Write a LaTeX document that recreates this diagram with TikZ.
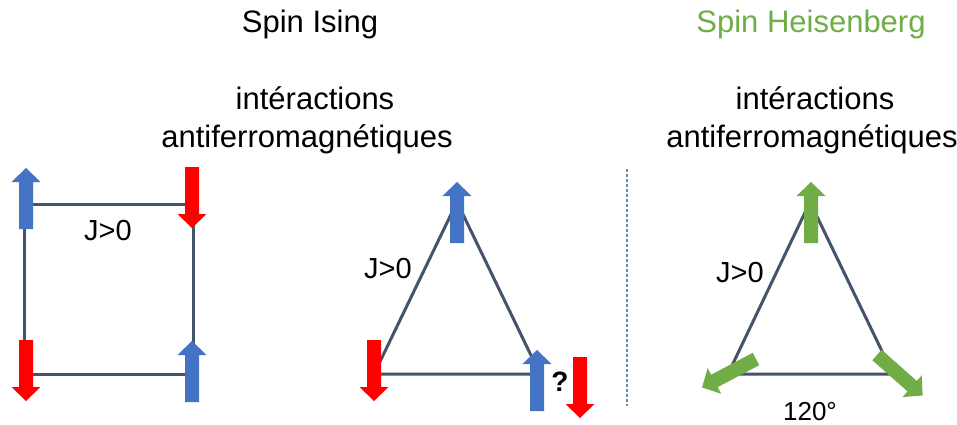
\documentclass[tikz,border=0pt]{standalone}
\usepackage{fontspec}
\setmainfont{Liberation Sans}
\definecolor{spinblue}{HTML}{4472C4}
\definecolor{spinred}{HTML}{FF0000}
\definecolor{spingreen}{HTML}{70AD47}
\definecolor{bond}{HTML}{44546A}
\definecolor{sep}{HTML}{6A85B8}
\newcommand{\spinarrow}[4]{%
  \fill[#1, shift={(#2,#3)}, rotate=#4]
    (0,-7) -- (47,-7) -- (47,-14.5) -- (61,0) -- (47,14.5) -- (47,7) -- (0,7) -- cycle;}
\tikzset{
  bondline/.style={draw=bond, line width=3pt},
  bigtext/.style={anchor=base, inner sep=0pt, font=\fontsize{31}{37}\selectfont},
  jtext/.style={anchor=base, inner sep=0pt, font=\fontsize{29}{34}\selectfont},
  angtext/.style={anchor=base, inner sep=0pt, font=\fontsize{26}{30}\selectfont},
  qtext/.style={anchor=base, inner sep=0pt, font=\fontsize{28}{32}\selectfont\bfseries},
  sepline/.style={draw=sep, line width=1.8pt, dash pattern=on 3pt off 2pt}
}
\begin{document}
\begin{tikzpicture}[x=1pt, y=-1pt]
\useasboundingbox (0,0) rectangle (957,425);
\fill[white] (0,0) rectangle (957,425);

% titles
\node[bigtext] (t1) at (310,33) {Spin Ising};
\node[bigtext, text=spingreen] (t2) at (811,33) {Spin Heisenberg};
\node[bigtext] (i1) at (315,110) {intéractions};
\node[bigtext] (a1) at (307,147) {antiferromagnétiques};
\node[bigtext] (i2) at (815,110) {intéractions};
\node[bigtext] (a2) at (812,147) {antiferromagnétiques};

% separator
\coordinate (s1) at (627,169);
\coordinate (s2) at (627,406);
\draw[sepline] (s1) -- (s2);

% square
\coordinate (q1) at (24,204);
\coordinate (q2) at (193,204);
\coordinate (q3) at (193,374);
\coordinate (q4) at (24,374);
\draw[bondline] (q1) -- (q2) -- (q3) -- (q4) -- cycle;

% triangle 1
\coordinate (a) at (457,202);
\coordinate (b) at (374,374);
\coordinate (c) at (540,374);
\draw[bondline, line join=round] (a) -- (b) -- (c) -- cycle;

% triangle 2
\coordinate (d) at (810,202);
\coordinate (e) at (728,374);
\coordinate (f) at (893,374);
\draw[bondline, line join=round] (d) -- (e) -- (f) -- cycle;

% spins square
\spinarrow{spinblue}{26}{229}{90}
\spinarrow{spinred}{192}{167}{-90}
\spinarrow{spinred}{26}{340}{-90}
\spinarrow{spinblue}{192}{402}{90}

% spins triangle 1
\spinarrow{spinblue}{457}{243}{90}
\spinarrow{spinred}{374}{340}{-90}
\spinarrow{spinblue}{537}{411}{90}
\spinarrow{spinred}{580}{357}{-90}

% spins triangle 2
\spinarrow{spingreen}{811}{243}{90}
\spinarrow{spingreen}{756}{359}{207.8}
\spinarrow{spingreen}{877}{355}{-41.6}

% labels
\node[jtext] (j1) at (108,240) {J>0};
\node[jtext] (j2) at (388,278) {J>0};
\node[jtext] (j3) at (740,282) {J>0};
\node[qtext] (qm) at (560,391) {?};
\node[angtext] (ang) at (810,420) {120°};
\end{tikzpicture}
\end{document}
